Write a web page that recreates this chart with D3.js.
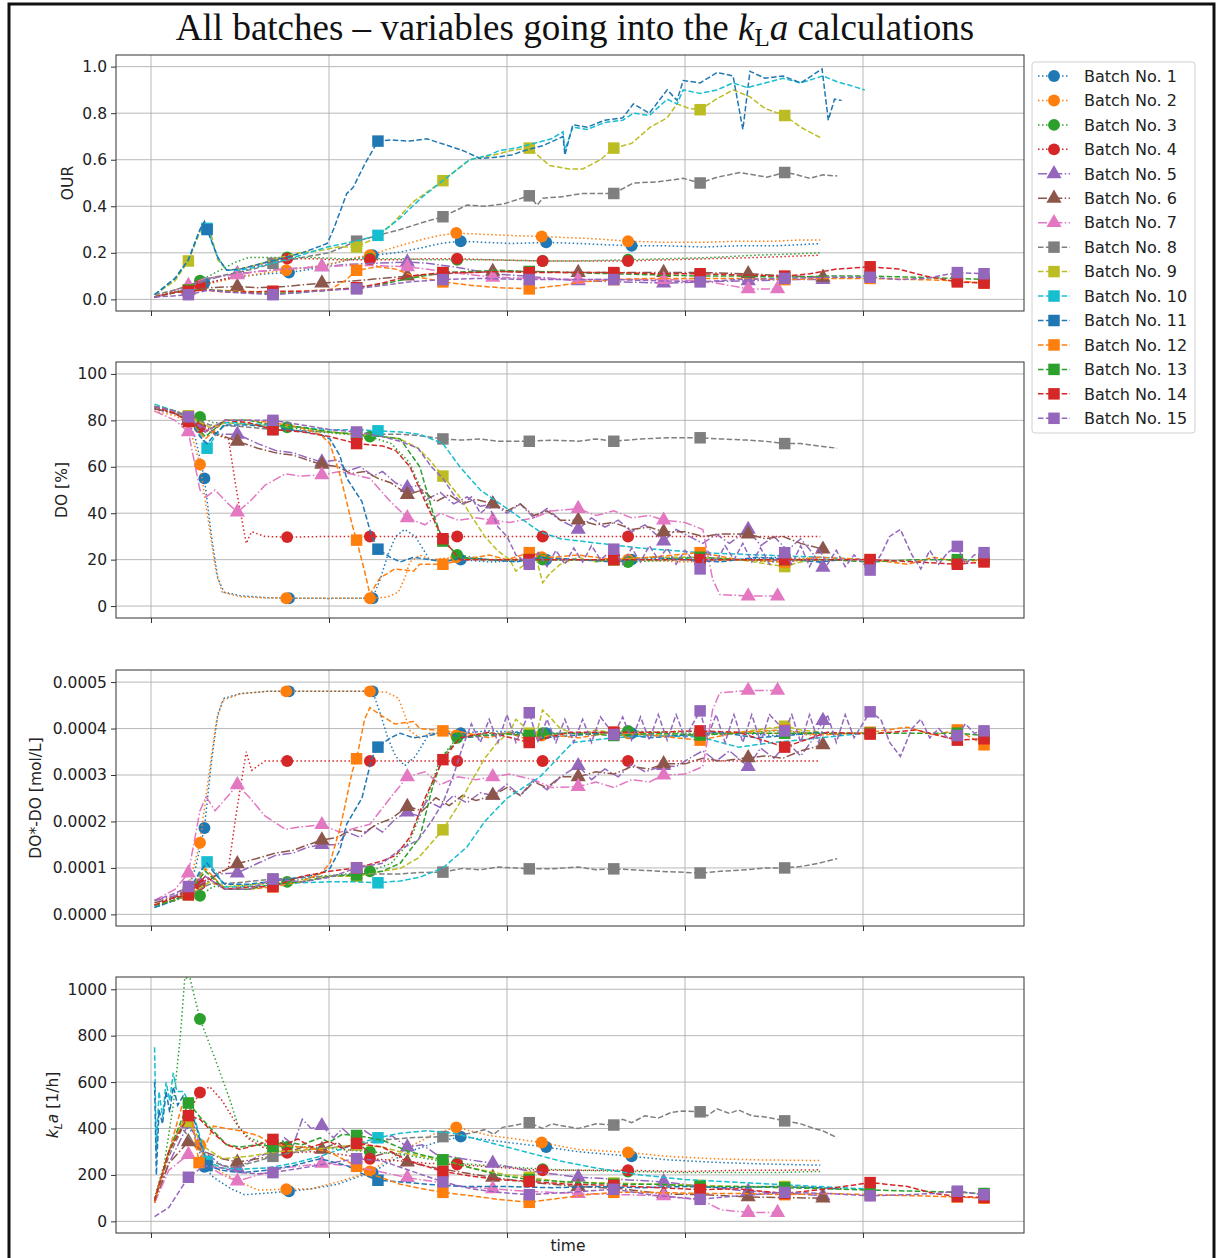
<!DOCTYPE html>
<html>
<head>
<meta charset="utf-8">
<script src="https://cdn.jsdelivr.net/npm/d3@7"></script>
<style>
  body { margin: 0; background: #fff; }
  text { font-family: "DejaVu Sans", sans-serif; fill: #222; }
</style>
</head>
<body>
<svg id="chart" width="1216" height="1258"></svg>
<script>
// batches and their styles
const batchNames = ["Batch No. 1", "Batch No. 2", "Batch No. 3", "Batch No. 4", "Batch No. 5",
  "Batch No. 6", "Batch No. 7", "Batch No. 8", "Batch No. 9", "Batch No. 10", "Batch No. 11",
  "Batch No. 12", "Batch No. 13", "Batch No. 14", "Batch No. 15"];
const batchColors = ["#1f77b4", "#ff7f0e", "#2ca02c", "#d62728", "#9467bd", "#8c564b", "#e377c2",
  "#7f7f7f", "#bcbd22", "#17becf", "#1f77b4", "#ff7f0e", "#2ca02c", "#d62728", "#9467bd"];
const batchLine = ["dot", "dot", "dot", "dot", "dashdot", "dashdot", "dashdot",
  "dash", "dash", "dash", "dash", "dash", "dash", "dash", "dash"];
const batchMarker = ["circle", "circle", "circle", "circle", "triangle", "triangle", "triangle",
  "square", "square", "square", "square", "square", "square", "square", "square"];

// time axis (no labels shown), grid every 20 h
const timeTicks = [0, 20, 40, 60, 80];

// OUR, points are [time, value, marker?]
const ourData = [
  [[0.4,0.01],[2.7,0.03],[4.5,0.05],[6.0,0.07,1],[8.0,0.085],[10.5,0.1],[13,0.11],[15.5,0.115,1],[18,0.13],[20.5,0.155],[23,0.175],[24.9,0.19,1],[27.5,0.2],[30.2,0.22],[32.5,0.24],[34.8,0.25,1],[37.5,0.245],[40.5,0.24],[44.4,0.245,1],[48,0.24],[51,0.235],[54,0.23,1],[58,0.23],[62,0.225],[66,0.23],[70,0.23],[73,0.235],[75.2,0.24]],
  [[0.4,0.01],[2.7,0.03],[4.3,0.05],[5.5,0.06,1],[8,0.08],[10.5,0.1],[13,0.115],[15.2,0.125,1],[18,0.14],[20.5,0.155],[23,0.18],[24.6,0.19,1],[27,0.22],[30.2,0.255],[32.5,0.275],[34.3,0.285,1],[37,0.28],[40,0.275],[43.9,0.27,1],[47,0.265],[50,0.26],[53.6,0.25,1],[58,0.245],[62,0.245],[66,0.25],[70,0.25],[73,0.255],[75.2,0.255]],
  [[0.4,0.01],[2.7,0.04],[4.3,0.06],[5.5,0.08,1],[7.5,0.12],[9.5,0.16],[11,0.18],[13,0.18],[15.3,0.18,1],[18,0.18],[21,0.175],[24.6,0.175,1],[28,0.175],[31,0.17],[34.4,0.17,1],[38,0.17],[44,0.165,1],[48,0.165],[53.6,0.17,1],[58,0.175],[63,0.18],[68,0.19],[72,0.195],[75.2,0.2]],
  [[0.4,0.01],[2.7,0.03],[4.3,0.045],[5.5,0.06,1],[7.5,0.08],[9.5,0.1],[11.5,0.14],[13.5,0.165],[15.3,0.175,1],[18,0.175],[21,0.17],[24.6,0.17,1],[28,0.17],[31,0.175],[34.4,0.175,1],[38,0.17],[44,0.165,1],[48,0.165],[53.6,0.165,1],[58,0.17],[63,0.175],[68,0.18],[72,0.185],[75.2,0.19]],
  [[0.4,0.01],[2.7,0.03],[4.2,0.05,1],[6,0.08],[8,0.1],[9.7,0.11,1],[12,0.12],[15,0.13],[19.2,0.14,1],[22,0.15],[25,0.155],[28.8,0.16,1],[31,0.155],[34,0.14],[38.4,0.11,1],[42,0.1],[48,0.08,1],[53,0.075],[57.6,0.07,1],[62,0.075],[67.1,0.08,1],[72,0.085],[75.5,0.085,1]],
  [[0.4,0.01],[2.7,0.03],[4.2,0.04,1],[6.5,0.05],[9.7,0.055,1],[12,0.05],[15,0.055],[19.2,0.07,1],[23,0.08],[28.8,0.1,1],[33,0.11],[38.4,0.12,1],[43,0.12],[48,0.115,1],[53,0.115],[57.6,0.115,1],[62,0.115],[67.1,0.11,1],[72,0.1],[75.5,0.095,1]],
  [[0.4,0.01],[2.7,0.04],[4.2,0.06,1],[6,0.09],[8,0.1],[9.7,0.105,1],[12,0.12],[15,0.13],[19.2,0.14,1],[22,0.145],[25,0.145],[28.8,0.14,1],[32,0.125],[35,0.11],[38.4,0.095,1],[43,0.09],[48,0.085,1],[53,0.085],[57.6,0.085,1],[62,0.08],[65,0.06],[67.1,0.045,1],[70.4,0.045,1]],
  [[0.4,0.02],[2.7,0.04],[4.2,0.06],[6.5,0.09],[9,0.11],[11.5,0.13],[13.7,0.155,1],[17,0.18],[20,0.2],[23.1,0.25,1],[26,0.28],[28,0.3],[30.5,0.33],[32.8,0.355,1],[35.5,0.405],[37.5,0.4],[39.6,0.41],[42.5,0.445,1],[43.4,0.405],[44,0.435],[46,0.44],[48.5,0.455],[52,0.455,1],[54.2,0.5],[57,0.505],[59.8,0.52],[61.7,0.5,1],[63.6,0.525],[66.2,0.545],[69.2,0.525],[71.2,0.545,1],[72.1,0.54],[74,0.52],[75.5,0.535],[77.1,0.53]],
  [[0.4,0.02],[2.7,0.08],[4.2,0.165,1],[5.5,0.29],[6.0,0.325],[6.6,0.3],[7.5,0.17],[8.5,0.125],[10,0.13],[12,0.15],[14.5,0.18],[16.7,0.2],[19,0.21],[21,0.225],[23.1,0.225,1],[25,0.26],[27,0.32],[29.5,0.42],[32.8,0.51,1],[35.8,0.6],[38.5,0.62],[40.5,0.64],[42.5,0.65,1],[44.8,0.575],[47,0.56],[48.5,0.56],[50.5,0.6],[52,0.65,1],[54,0.67],[56.1,0.74],[58,0.78],[59.1,0.84],[60.5,0.82],[61.7,0.815,1],[63.5,0.86],[65.4,0.9],[67.3,0.87],[69,0.82],[71.2,0.79,1],[73,0.74],[75.2,0.695]],
  [[0.4,0.02],[2.7,0.09],[4.2,0.17],[5.5,0.3],[6.0,0.33],[6.3,0.305,1],[7.5,0.18],[8.5,0.125],[10,0.125],[12,0.14],[13.7,0.155],[16,0.18],[19.8,0.225],[23,0.25],[25.5,0.275,1],[28,0.35],[30.5,0.44],[32.8,0.51],[35.8,0.6],[38,0.62],[39.2,0.64],[41,0.65],[43,0.67],[45,0.69],[46.3,0.72],[46.5,0.64],[47.4,0.74],[49,0.73],[51,0.76],[53,0.77],[54.2,0.8],[56,0.79],[58,0.86],[59.1,0.84],[59.8,0.9],[61.7,0.885],[63.6,0.9],[65.4,0.93],[67,0.91],[69,0.93],[71,0.95],[73,0.93],[75.5,0.96],[77.1,0.935],[78.5,0.92],[80.2,0.9]],
  [[0.4,0.02],[2.7,0.09],[4.2,0.17],[5.5,0.3],[6.0,0.335],[6.3,0.3,1],[7.5,0.18],[8.5,0.125],[10,0.13],[12,0.15],[14,0.17],[17,0.2],[19.8,0.24],[20.5,0.3],[22,0.455],[22.7,0.48],[24,0.58],[25.5,0.68,1],[27,0.685],[29,0.68],[31,0.69],[33,0.665],[35,0.64],[37,0.605],[38.5,0.61],[40.5,0.62],[42,0.64],[44,0.66],[46.3,0.7],[46.5,0.62],[47.4,0.75],[49,0.74],[51,0.77],[53,0.78],[54.2,0.84],[56,0.8],[58,0.9],[59.1,0.855],[59.8,0.94],[61.7,0.93],[63.6,0.975],[65.4,0.96],[66.5,0.73],[67.3,0.98],[69,0.95],[71,0.96],[73,0.93],[75.4,0.99],[76.1,0.77],[76.8,0.86],[77.6,0.855]],
  [[0.4,0.01],[2.7,0.03],[4.2,0.04,1],[7,0.04],[10,0.035],[13.7,0.03,1],[17,0.035],[20,0.04],[21.8,0.08],[23.1,0.125,1],[25.5,0.14],[27.5,0.13],[29.5,0.1],[32.8,0.075,1],[36,0.06],[39.2,0.05],[42.5,0.045,1],[46,0.06],[48.5,0.075],[52,0.085,1],[56,0.09],[61.7,0.09,1],[66,0.09],[71.2,0.085,1],[76,0.09],[80.8,0.09,1],[86,0.085],[90.6,0.08,1],[93.6,0.07,1]],
  [[0.4,0.01],[2.7,0.03],[4.2,0.04,1],[7,0.04],[10,0.03],[13.7,0.025,1],[17,0.03],[20,0.04],[23.1,0.05,1],[26,0.065],[29,0.09],[32.8,0.115,1],[36,0.12],[39,0.125],[42.5,0.12,1],[47,0.115],[52,0.11,1],[57,0.105],[61.7,0.1,1],[66,0.1],[71.2,0.095,1],[76,0.1],[80.8,0.1,1],[86,0.095],[90.6,0.09,1],[93.6,0.085,1]],
  [[0.4,0.01],[2.7,0.03],[4.2,0.035,1],[6,0.04],[9,0.03],[13.7,0.035,1],[17,0.035],[20,0.04],[23.1,0.05,1],[26,0.07],[29,0.1],[32.8,0.115,1],[36,0.115],[39,0.12],[42.5,0.115,1],[47,0.115],[52,0.115,1],[57,0.11],[61.7,0.11,1],[66,0.105],[71.2,0.1,1],[74,0.11],[77,0.13],[80.8,0.14,1],[84,0.13],[87,0.1],[90.6,0.075,1],[93.6,0.07,1]],
  [[0.4,0.01],[2.7,0.015],[4.2,0.02,1],[6.5,0.04],[9,0.03],[13.7,0.02,1],[17,0.03],[20,0.04],[23.1,0.045,1],[26,0.06],[29,0.075],[32.8,0.085,1],[37,0.09],[42.5,0.085,1],[47,0.085],[52,0.085,1],[57,0.08],[61.7,0.075,1],[66,0.085],[71.2,0.09,1],[76,0.095],[80.8,0.095,1],[84,0.085],[87,0.09],[90.6,0.115,1],[93.6,0.11,1]]
];

// DO [%]
const doData = [
  [[0.4,85],[2.7,83],[4.2,80],[5.0,72],[6.0,55,1],[6.8,30],[7.5,12],[8.2,6],[10,4.5],[13,3.6],[15.5,3.4,1],[20,3.3],[24.9,3.4,1],[25.8,12],[26.6,22],[27.5,30],[28.5,33],[29.7,30],[31.3,20],[34.8,20,1],[38,19],[44.4,20,1],[50,20],[54,20,1],[60,21],[66,20],[70,21],[75.2,20]],
  [[0.4,84],[2.7,82],[4.2,79],[5.5,61,1],[6.5,35],[7.3,15],[8,6],[10,4],[13,3.5],[15.2,3.4,1],[20,3.3],[24.6,3.4,1],[26.5,3.8],[27.8,6],[28.5,12],[29.1,19],[30.2,22],[31.5,20],[34.3,21,1],[38,20],[43.9,21,1],[48,20],[53.6,20,1],[60,19],[66,20],[70,20],[75.2,21]],
  [[0.4,86],[2.7,84],[4.2,82],[5.5,81.5,1],[7,79],[9,79],[12,78],[15.3,77,1],[19,75],[22,74],[24.6,73,1],[27,70],[29,62],[31,45],[32.5,30],[34.4,22,1],[38,20],[44,20,1],[48,20],[53.6,19,1],[60,20],[66,20],[70,19],[75.2,20]],
  [[0.4,85],[2.7,83],[4.2,80],[5.5,77,1],[7.2,74],[8.7,72],[9.6,50],[10.7,27],[11.3,32],[12.8,30],[15.3,29.7,1],[20,30],[24.6,30,1],[30,30],[34.4,30,1],[40,30],[44,30,1],[50,30],[53.6,30,1],[60,30],[66,30],[70,30],[75.2,30]],
  [[0.4,85],[2.7,83],[4.2,80,1],[6,77],[7.5,74],[9.7,74,1],[12,70],[14,67],[16,66],[17.5,64],[19.2,62,1],[21,63],[22,58],[23.5,60],[25,56],[26,58],[27.5,53],[28.8,51,1],[30,52],[31,46],[32.5,49],[34,44],[35.5,47],[37,43],[38.4,44,1],[40,40],[41.5,44],[43,38],[44.5,42],[46,37],[48,33,1],[49.5,38],[51,34],[52.5,37],[54,32],[55.5,35],[57.6,28,1],[59,33],[60.5,30],[62,27],[63.5,31],[65,27],[67.1,33,1],[68.5,26],[70,30],[71.5,24],[73,29],[74.5,22],[75.5,16.7,1]],
  [[0.4,85],[2.7,83],[4.2,80,1],[6,78],[7.5,74],[9.7,71,1],[12,68],[14,66],[16,65],[17.5,63],[19.2,61,1],[21,60],[22.5,57],[24,58],[25.5,55],[27,53],[28.8,48,1],[30.5,50],[32,45],[33.5,48],[35,44],[36.5,46],[38.4,44,1],[40,41],[41.5,44],[43,39],[44.5,41],[46,37],[48,37,1],[50,35],[52,36],[54,33],[56,34],[57.6,32,1],[60,32],[62,30],[64,31],[67.1,31,1],[69,29],[71,30],[73,27],[75.5,24.5,1]],
  [[0.4,84],[2.7,80],[4.2,75,1],[5.5,50],[6.2,47],[7.2,50],[8.7,44],[9.7,40.5,1],[11.1,45],[12.8,52],[15.1,57],[16.7,56],[19.2,56.5,1],[21.2,58],[24.6,55],[26.9,45],[28.8,38,1],[30.8,35],[32.5,40],[34.5,37],[36.5,38],[38.4,37,1],[40.3,36],[43,38],[45,41],[48,42,1],[50,39],[52,41],[54,38],[56,39],[57.6,37,1],[60,36],[62,33],[63.1,11.6],[63.9,5],[67.1,4.3,1],[70.4,4.3,1]],
  [[0.4,86],[2.7,84],[4.2,82],[6.6,78],[9.6,77.5],[13.7,76,1],[17,75.5],[20,75],[23.1,74,1],[26,74],[28,74],[30,73.5],[32.8,72,1],[35,71.5],[37,72],[39,71],[42.5,71,1],[45,71.5],[48,71],[50,72],[52,71,1],[55,72],[58,72.5],[61.7,72.5,1],[64,72],[67,71.5],[69,71],[71.2,70,1],[73,70],[75,69],[77.1,68]],
  [[0.4,86],[2.7,84],[4.2,82,1],[6.6,77],[8.3,79],[12,78],[16.7,77],[20,75],[23.1,74,1],[26,73],[28,72],[30,68],[31.3,63],[32.8,56,1],[34.5,48],[35.8,40],[37.5,30],[38.9,24],[40.3,20],[41,15],[42,18],[42.5,20,1],[43.2,22],[44,10],[44.8,14],[46,18],[48,21],[50,19],[52,20,1],[56,21],[61.7,21,1],[66,20],[71.2,17,1],[73,19],[75.2,20]],
  [[0.4,87],[2.7,84],[4.2,81],[5.5,74],[6.3,68,1],[7.2,73],[8.3,79],[10,79],[13,78],[16.7,77],[20,76],[23,76],[25.5,75.5,1],[28,75],[30.2,74],[32.8,70],[34.7,60],[37,50],[40,42],[43.7,32],[46,29],[50.4,27],[54.9,25],[61.7,23],[68.4,22],[75.2,21],[80.2,20]],
  [[0.4,86],[2.7,84],[4.2,81],[5.5,73],[6.3,70],[7.2,74],[8.3,78],[11,78],[15.6,76],[19,74],[20.1,72],[21.2,65],[22.0,55],[23.7,45],[24.8,30],[25.5,24.5,1],[26.9,21],[28,19],[29.5,21],[31.3,20],[33,19],[35,21],[38,20],[41,19],[44,21],[48,20],[52,19],[56,21],[60,20],[64,19],[68,21],[72,20],[75,19],[77.6,20]],
  [[0.4,86],[2.7,84],[4.2,81,1],[6.1,72],[8.3,80],[11,80],[13.7,79,1],[16.7,77],[19,74],[20.1,70],[21.2,57],[21.8,48],[22.6,35],[23.1,28.4,1],[24.0,15],[24.6,5],[25.7,12],[27.4,16],[29.5,15],[30.2,18],[32.8,18,1],[35,20],[38,22],[40,20],[42.5,23,1],[45,21],[48,22],[52,20,1],[56,21],[61.7,23,1],[66,20],[71.2,19,1],[75,21],[80.8,20,1],[85,18],[88,21],[90.6,19,1],[93.6,20,1]],
  [[0.4,86],[2.7,84],[4.2,81,1],[6.1,73],[8.3,80],[11,80],[13.7,78,1],[17,77],[20.1,75],[23.1,74,1],[26,73],[28,72],[30.2,60],[31.7,40],[32.8,28,1],[34.7,21],[37,20],[40,20],[42.5,20,1],[47,20],[52,20,1],[57,20],[61.7,21,1],[66,20],[71.2,20,1],[76,20],[80.8,19,1],[86,20],[90.6,20,1],[93.6,20,1]],
  [[0.4,86],[2.7,83],[4.2,79.5,1],[6.1,75],[8.3,80],[11,79],[13.7,76,1],[17,75],[20.1,73],[23.1,70,1],[26,69],[27.5,67],[29.1,60],[30.8,45],[32.8,29,1],[34.7,20],[38,20],[42.5,20,1],[47,20],[52,20,1],[57,20],[61.7,20,1],[66,20],[71.2,20,1],[76,20],[80.8,20,1],[86,19],[90.6,18,1],[93.6,19,1]],
  [[0.4,86],[2.7,84],[4.2,81.5,1],[6.1,75],[8.3,80],[11,80],[13.7,80,1],[17,78],[20.1,76],[23.1,75,1],[26,73],[28,71],[30,68],[31.5,60],[32.8,55],[34,48],[35,44],[36,47],[37,40],[38,43],[39,34],[40,30],[41,22],[42.5,18,1],[43.5,23],[44.5,17],[45.5,24],[46.5,18],[47.5,25],[48.5,19],[49.5,26],[50.5,20],[52,24.5,1],[53,18],[54,25],[55,19],[56,26],[57,20],[58,25],[59,18],[60,24],[61.7,16,1],[62.5,24],[63.5,19],[64.5,26],[65.5,20],[66.5,27],[67.5,19],[68.5,25],[69.5,18],[71.2,23,1],[72,18],[73,26],[74,17],[75,25],[76,18],[77,24],[78,17],[79,22],[80.8,15.5,1],[82,22],[83,30],[84.2,33],[85.5,22],[86.5,16],[87.5,24],[88.5,18],[89.5,23],[90.6,25.7,1],[91.5,18],[92.5,22],[93.6,23,1]]
];

// DO*-DO in units of 1e-4 mol/L
const dsatData = [
  [[0.4,0.2],[2.7,0.35],[4.2,0.55],[5.0,1.0],[6.0,1.86,1],[6.8,3.3],[7.5,4.3],[8.2,4.65],[10,4.75],[13,4.8],[15.5,4.8,1],[20,4.8],[24.9,4.8,1],[25.8,4.3],[26.6,3.8],[27.5,3.4],[28.5,3.2],[29.7,3.4],[31.3,3.9],[34.8,3.9,1],[38,3.95],[44.4,3.9,1],[50,3.9],[54,3.9,1],[60,3.85],[66,3.9],[70,3.85],[75.2,3.9]],
  [[0.4,0.25],[2.7,0.4],[4.2,0.6],[5.5,1.54,1],[6.5,3.0],[7.3,4.1],[8,4.6],[10,4.75],[13,4.8],[15.2,4.8,1],[20,4.8],[24.6,4.8,1],[26.5,4.78],[27.8,4.65],[28.5,4.3],[29.1,3.95],[30.2,3.8],[31.5,3.9],[34.3,3.85,1],[38,3.9],[43.9,3.85,1],[48,3.9],[53.6,3.9,1],[60,3.95],[66,3.9],[70,3.9],[75.2,3.85]],
  [[0.4,0.15],[2.7,0.3],[4.2,0.4],[5.5,0.4,1],[7,0.6],[9,0.6],[12,0.65],[15.3,0.7,1],[19,0.82],[22,0.87],[24.6,0.93,1],[27,1.1],[29,1.55],[31,2.5],[32.5,3.35],[34.4,3.8,1],[38,3.9],[44,3.9,1],[48,3.9],[53.6,3.95,1],[60,3.9],[66,3.9],[70,3.95],[75.2,3.9]],
  [[0.4,0.2],[2.7,0.35],[4.2,0.5],[5.5,0.65,1],[7.2,0.87],[8.7,0.99],[9.6,2.2],[10.7,3.5],[11.3,3.1],[12.8,3.3],[15.3,3.3,1],[20,3.3],[24.6,3.3,1],[30,3.3],[34.4,3.3,1],[40,3.3],[44,3.3,1],[50,3.3],[53.6,3.3,1],[60,3.3],[66,3.3],[70,3.3],[75.2,3.3]],
  [[0.4,0.3],[2.7,0.4],[4.2,0.55,1],[6,0.7],[7.5,0.87],[9.7,0.89,1],[12,1.1],[14,1.27],[16,1.32],[17.5,1.44],[19.2,1.5,1],[21,1.5],[22,1.77],[23.5,1.66],[25,1.9],[26,1.77],[27.5,2.06],[28.8,2.2,1],[30,2.12],[31,2.45],[32.5,2.3],[34,2.56],[35.5,2.4],[37,2.62],[38.4,2.56,1],[40,2.8],[41.5,2.56],[43,2.9],[44.5,2.68],[46,2.96],[48,3.2,1],[49.5,2.9],[51,3.13],[52.5,2.96],[54,3.24],[55.5,3.07],[57.6,3.2,1],[59,3.18],[60.5,3.36],[62,3.52],[63.5,3.3],[65,3.52],[67.1,3.18,1],[68.5,3.58],[70,3.36],[71.5,3.7],[73,3.41],[74.5,3.8],[75.5,4.17,1]],
  [[0.4,0.25],[2.7,0.37],[4.2,0.54,1],[6,0.65],[7.5,0.87],[9.7,1.09,1],[12,1.21],[14,1.32],[16,1.38],[17.5,1.49],[19.2,1.6,1],[21,1.66],[22.5,1.83],[24,1.77],[25.5,1.95],[27,2.06],[28.8,2.32,1],[30.5,2.23],[32,2.51],[33.5,2.34],[35,2.56],[36.5,2.45],[38.4,2.56,1],[40,2.73],[41.5,2.56],[43,2.85],[44.5,2.73],[46,2.96],[48,2.96,1],[50,3.07],[52,3.02],[54,3.18],[56,3.13],[57.6,3.24,1],[60,3.24],[62,3.36],[64,3.3],[67.1,3.37,1],[69,3.41],[71,3.36],[73,3.52],[75.5,3.65,1]],
  [[0.4,0.3],[2.7,0.54],[4.2,0.89,1],[5.5,2.23],[6.2,2.53],[7.2,2.23],[8.7,2.56],[9.7,2.79,1],[11.1,2.51],[12.8,2.12],[15.1,1.83],[16.7,1.88],[19.2,1.93,1],[21.2,1.77],[24.6,1.94],[26.9,2.51],[28.8,2.96,1],[30.8,3.07],[32.5,2.79],[34.5,2.96],[36.5,2.9],[38.4,2.96,1],[40.3,3.02],[43,2.9],[45,2.73],[48,2.75,1],[50,2.85],[52,2.73],[54,2.9],[56,2.85],[57.6,3.0,1],[60,3.02],[62,3.18],[63.1,4.4],[63.9,4.77],[67.1,4.82,1],[70.4,4.82,1]],
  [[0.4,0.2],[2.7,0.3],[4.2,0.42],[6.6,0.65],[9.6,0.68],[13.7,0.76,1],[17,0.79],[20,0.82],[23.1,0.87,1],[26,0.87],[28,0.87],[30,0.9],[32.8,0.91,1],[35,0.99],[37,0.96],[39,1.02],[42.5,0.98,1],[45,0.98],[48,1.02],[50,0.96],[52,0.98,1],[55,0.95],[58,0.92],[61.7,0.89,1],[64,0.93],[67,0.96],[69,1.0],[71.2,1.0,1],[73,1.03],[75,1.1],[77.1,1.2]],
  [[0.4,0.2],[2.7,0.31],[4.2,0.42,1],[6.6,0.7],[8.3,0.59],[12,0.65],[16.7,0.7],[20,0.82],[23.1,0.82,1],[26,0.93],[28,0.99],[30,1.21],[31.3,1.49],[32.8,1.82,1],[34.5,2.34],[35.8,2.79],[37.5,3.36],[38.9,3.7],[40.3,3.92],[41,4.2],[42,4.03],[42.5,3.9,1],[43.2,3.8],[44,4.4],[44.8,4.25],[46,4.0],[48,3.86],[50,3.97],[52,3.9,1],[56,3.86],[61.7,3.86,1],[66,3.92],[71.2,4.05,1],[73,3.97],[75.2,3.92]],
  [[0.4,0.15],[2.7,0.31],[4.2,0.48],[5.5,0.87],[6.3,1.13,1],[7.2,0.93],[8.3,0.59],[10,0.59],[13,0.62],[16.7,0.68],[20,0.7],[23,0.7],[25.5,0.68,1],[28,0.72],[30.2,0.8],[32.8,1.0],[35.5,1.45],[37.5,2.0],[40,2.5],[43.7,2.96],[47.4,3.7],[52,3.8],[56,3.85],[61.7,3.82],[66,3.6],[70,3.7],[75.2,3.8],[80.2,3.9]],
  [[0.4,0.15],[2.7,0.31],[4.2,0.48],[5.5,0.93],[6.3,1.1],[7.2,0.87],[8.3,0.65],[11,0.65],[15.6,0.76],[19,0.87],[20.1,0.99],[21.2,1.38],[22,1.95],[23.7,2.5],[24.8,3.36],[25.5,3.6,1],[26.9,3.8],[28,3.9],[29.5,3.8],[31.3,3.85],[33,3.92],[35,3.8],[38,3.85],[41,3.92],[44,3.8],[48,3.86],[52,3.92],[56,3.8],[60,3.86],[64,3.92],[68,3.8],[72,3.86],[75,3.92],[77.6,3.86]],
  [[0.4,0.2],[2.7,0.31],[4.2,0.48,1],[6.1,0.99],[8.3,0.54],[11,0.54],[13.7,0.59,1],[16.7,0.7],[19,0.87],[20.1,1.1],[21.2,1.83],[21.8,2.34],[22.6,3.07],[23.1,3.35,1],[24.0,4.2],[24.6,4.45],[25.7,4.3],[27.4,4.1],[29.5,4.15],[30.2,4.0],[32.8,3.95,1],[35,3.92],[38,3.8],[40,3.92],[42.5,3.75,1],[45,3.86],[48,3.8],[52,3.92,1],[56,3.86],[61.7,3.75,1],[66,3.92],[71.2,3.97,1],[75,3.86],[80.8,3.92,1],[85,4.03],[88,3.86],[90.6,3.97,1],[93.6,3.65,1]],
  [[0.4,0.2],[2.7,0.31],[4.2,0.45,1],[6.1,0.93],[8.3,0.54],[11,0.54],[13.7,0.65,1],[17,0.7],[20.1,0.82],[23.1,0.85,1],[26,0.93],[28,1.1],[30.2,1.66],[31.7,2.79],[32.8,3.4],[34.7,3.81],[37,3.85],[40,3.88],[42.5,3.85,1],[47,3.9],[52,3.85,1],[57,3.9],[61.7,3.86,1],[66,3.9],[71.2,3.9,1],[76,3.9],[80.8,3.9,1],[86,3.9],[90.6,3.9,1],[93.6,3.85,1]],
  [[0.4,0.2],[2.7,0.37],[4.2,0.42,1],[6.1,0.82],[8.3,0.54],[11,0.59],[13.7,0.6,1],[17,0.82],[20.1,0.93],[23.1,1.0,1],[26,1.15],[27.5,1.27],[29.1,1.66],[30.8,2.51],[32.8,3.33,1],[34.7,3.8],[38,3.92],[42.5,3.7,1],[47,3.92],[52,3.92,1],[57,3.92],[61.7,3.95,1],[66,3.92],[71.2,3.6,1],[76,3.92],[80.8,3.88,1],[86,3.97],[90.6,3.75,1],[93.6,3.78,1]],
  [[0.4,0.3],[2.7,0.45],[4.2,0.6,1],[6.1,0.82],[8.3,0.54],[11,0.54],[13.7,0.76,1],[17,0.7],[20.1,0.8],[23.1,1.0,1],[26,1.1],[28,1.4],[30,1.6],[31.5,2.0],[32.8,2.4],[34,3.0],[35,3.6],[36,4.1],[37,3.7],[38,4.2],[39,3.7],[40,4.3],[41,3.7],[42.5,4.34,1],[43.5,3.7],[44.5,4.2],[45.5,3.7],[46.5,4.2],[47.5,3.7],[48.5,4.2],[49.5,3.7],[50.5,4.25],[52,3.87,1],[53,4.25],[54,3.75],[55,4.25],[56,3.75],[57,4.3],[58,3.75],[59,4.3],[60,3.8],[61.7,4.38,1],[62.5,3.8],[63.5,4.3],[64.5,3.7],[65.5,4.3],[66.5,3.7],[67.5,4.3],[68.5,3.7],[69.5,4.3],[71.2,3.95,1],[72,4.3],[73,3.7],[74,4.3],[75,3.7],[76,4.3],[77,3.7],[78,4.3],[79,3.8],[80.8,4.36,1],[82,4.2],[83,3.7],[84.2,3.4],[85.5,4.0],[86.5,4.2],[87.5,3.8],[88.5,4.0],[89.5,3.8],[90.6,3.85,1],[91.5,4.1],[92.5,3.9],[93.6,3.95,1]]
];

// kLa [1/h]
const klaData = [
  [[0.4,90],[2,300],[3.5,420],[4.8,380],[6.0,235,1],[7,190],[9,140],[10.5,115],[12.5,120],[15.5,130,1],[18,140],[21,160],[23.5,195],[24.9,210,1],[26.5,250],[29,300],[32,340],[34.8,365,1],[38,350],[44.4,320,1],[48,300],[54,280,1],[58,265],[63,255],[68,248],[75.2,242]],
  [[0.4,90],[2,300],[3.5,430],[4.5,440],[5.5,330,1],[6.5,260],[8,210],[10,170],[12,135],[15.2,138,1],[18,140],[21,170],[23.5,200],[24.6,215,1],[26.5,260],[29,320],[32,380],[34.3,405,1],[38,370],[43.9,340,1],[48,310],[53.6,297,1],[58,280],[63,270],[68,265],[75.2,262]],
  [[0.4,100],[1.5,250],[2.5,500],[3.3,800],[3.8,1050],[4.4,1045],[5.5,872,1],[7.2,700],[8.9,520],[9.8,410],[11,360],[13,330],[15.3,320,1],[18,320],[21,310],[24.6,300,1],[28,290],[31,270],[34.4,250,1],[38,240],[44,225,1],[48,220],[53.6,215,1],[60,210],[66,210],[70,210],[75.2,215]],
  [[0.4,100],[2,300],[3.5,420],[5.5,555,1],[6.6,580],[8,520],[9.6,420],[10.8,360],[12.5,320],[15.3,295,1],[18,300],[21,290],[24.6,270,1],[28,260],[31,250],[34.4,245,1],[38,235],[44,220,1],[48,220],[53.6,220,1],[60,215],[66,220],[70,220],[75.2,222]],
  [[0.4,80],[2,250],[4.2,420,1],[6,300],[8,240],[9.7,230,1],[12,280],[14,300],[15,360],[16,330],[17,440],[18,400],[19.2,412,1],[20.5,360],[21.5,400],[23,350],[24,390],[26,340],[27,370],[28.8,320,1],[30.5,330],[32,290],[35,270],[38.4,250,1],[42,220],[48,190,1],[53,180],[57.6,170,1],[62,150],[67.1,130,1],[72,120],[75.5,110,1]],
  [[0.4,80],[2,250],[4.2,343,1],[6,300],[8,270],[9.7,255,1],[12,270],[15,290],[17,320],[19.2,310,1],[21,340],[22,300],[23.5,330],[25,280],[27,300],[28.8,255,1],[32,230],[35,210],[38.4,190,1],[42,170],[48,150,1],[53,140],[57.6,118,1],[62,115],[67.1,105,1],[72,102],[75.5,100,1]],
  [[0.4,80],[2,220],[4.2,288,1],[6,250],[8,200],[9.7,173,1],[12,200],[15,230],[19.2,250,1],[22,240],[25,220],[28.8,188,1],[32,170],[35,150],[38.4,140,1],[42,130],[48,120,1],[53,115],[57.6,110,1],[62,90],[64,50],[67.1,38,1],[70.4,38,1]],
  [[0.4,90],[2,280],[3.5,400],[5,330],[6.6,260],[9,230],[12,260],[13.7,280,1],[15,290],[18,310],[21,320],[23.1,330,1],[26,350],[29,360],[32.8,365,1],[36,380],[37.5,395],[38.5,375],[39.5,405],[42.5,425,1],[44,400],[45,420],[48,400],[50,420],[52,415,1],[53,440],[54,425],[55.5,455],[57,445],[58.5,470],[59.8,475],[61.7,472,1],[62.5,455],[63.6,485],[65,465],[66,480],[67.5,455],[69,450],[71.2,433,1],[73,420],[74.5,400],[75.5,390],[77.1,360]],
  [[0.4,90],[2,300],[3.5,420],[4.2,430,1],[6,320],[8,270],[11,280],[14,300],[18,310],[21,320],[23.1,330,1],[26,320],[29,290],[32.8,265,1],[36,230],[40,200],[42.5,190,1],[46,170],[52,165,1],[56,160],[61.7,155,1],[66,150],[71.2,150,1],[75.2,145]],
  [[0.4,750],[0.6,300],[0.9,560],[1.3,450],[1.7,600],[2.1,520],[2.5,640],[2.9,560],[3.6,560],[4.2,520],[5.0,430],[6.3,258,1],[8,230],[10,225],[13,230],[16,250],[19,280],[22,320],[25.5,360,1],[28,380],[31,390],[34,380],[38,340],[42,300],[46,260],[50,230],[55,200],[60,180],[65,170],[70,160],[75,150],[80.2,140]],
  [[0.4,600],[0.6,200],[0.9,480],[1.3,420],[1.7,560],[2.1,470],[2.5,580],[3.0,500],[3.6,540],[4.2,500],[5.0,420],[6.3,240,1],[8,220],[10,210],[13,220],[16,240],[19,270],[22,240],[24,200],[25.5,177,1],[28,170],[31,160],[35,150],[40,150],[45,145],[50,150],[55,145],[60,150],[65,145],[70,150],[75,145],[77.6,140]],
  [[0.4,80],[2,300],[3.5,500],[4.2,530],[5.4,253,1],[7,410],[8.5,400],[10,390],[12,370],[13.7,330,1],[17,320],[20,300],[23.1,237,1],[25,200],[28,160],[30.5,140],[32.8,125,1],[36,110],[39,95],[42.5,82,1],[46,100],[49,115],[52,125,1],[56,125],[61.7,120,1],[66,120],[71.2,115,1],[76,120],[80.8,115,1],[86,110],[90.6,105,1],[93.6,100,1]],
  [[0.4,90],[2,300],[4.2,510,1],[5.5,450],[7,390],[8.5,330],[10,320],[12,330],[13.7,323,1],[15,345],[17,330],[19,360],[20,340],[21.5,375],[23.1,370,1],[26,350],[29,300],[32.8,265,1],[36,230],[39,200],[42.5,180,1],[47,170],[52,160,1],[57,160],[61.7,150,1],[66,150],[71.2,145,1],[76,140],[80.8,135,1],[86,130],[90.6,125,1],[93.6,120,1]],
  [[0.4,90],[2,300],[4.2,455,1],[5.5,440],[7,380],[8.5,330],[10,310],[12,330],[13.7,353,1],[15,330],[16.5,355],[18,320],[20,345],[21.5,315],[23.1,336,1],[26,320],[29,260],[32.8,215,1],[36,195],[39,180],[42.5,172,1],[47,160],[52,155,1],[57,145],[61.7,137,1],[66,140],[71.2,120,1],[76,140],[80.8,167,1],[85,150],[88,120],[90.6,107,1],[93.6,103,1]],
  [[0.4,20],[2,60],[4.2,190,1],[6,240],[8,230],[10,210],[12,205],[13.7,210,1],[17,230],[20,250],[23.1,270,1],[26,260],[29,220],[32.8,170,1],[36,140],[39,125],[42.5,115,1],[47,125],[52,138,1],[57,110],[61.7,95,1],[66,110],[71.2,125,1],[76,120],[80.8,110,1],[85,115],[88,120],[90.6,130,1],[93.6,115,1]]
];

const ourTicks = [0, 0.2, 0.4, 0.6, 0.8, 1.0];
const doTicks = [0, 20, 40, 60, 80, 100];
const dsatTicks = [0, 1, 2, 3, 4, 5];
const klaTicks = [0, 200, 400, 600, 800, 1000];

// options table built from the arrays above
const panels = [
  { data: ourData, domain: [-0.05, 1.05], ticks: ourTicks, fmt: d => d.toFixed(1), label: "OUR", labelX: 68 },
  { data: doData, domain: [-5.15, 105.15], ticks: doTicks, fmt: d => d, label: "DO [%]", labelX: 62 },
  { data: dsatData, domain: [-0.25, 5.26], ticks: dsatTicks, fmt: d => (d * 1e-4).toFixed(4), label: "DO*-DO [mol/L]", labelX: 36 },
  { data: klaData, domain: [-50.2, 1052.8], ticks: klaTicks, fmt: d => d, label: "kla", labelX: 53 }
];

const dashes = { dot: "1.5,2.5", dash: "5.5,2.4", dashdot: "9,2.4,1.5,2.4" };
const symbolType = { circle: d3.symbolCircle, square: d3.symbolSquare, triangle: d3.symbolTriangle };
const symbolSize = { circle: 112, square: 132, triangle: 100 };

const svg = d3.select("#chart");
const left = 116, right = 1024, panelH = 256;
const tops = [55, 362, 670, 977];

const x = d3.scaleLinear().domain([-3.933, 98.09]).range([left, right]);

// figure frame
svg.append("rect")
  .attr("x", 9).attr("y", 4).attr("width", 1205).attr("height", 1270)
  .attr("fill", "none").attr("stroke", "#111").attr("stroke-width", 3);

// title
const title = svg.append("text")
  .attr("x", 575).attr("y", 40)
  .attr("text-anchor", "middle")
  .style("font-family", "'Liberation Serif', 'Times New Roman', serif")
  .style("font-size", "37px").style("fill", "#111");
title.append("tspan").text("All batches \u2013 variables going into the ");
title.append("tspan").style("font-style", "italic").text("k");
title.append("tspan").attr("dy", 6).style("font-size", "25px").text("L");
title.append("tspan").attr("dy", -6).style("font-style", "italic").text("a");
title.append("tspan").text(" calculations");

panels.forEach((p, i) => {
  const top = tops[i], bottom = top + panelH;
  const y = d3.scaleLinear().domain(p.domain).range([bottom, top]);
  const g = svg.append("g");

  // grid
  g.selectAll(".gx").data(timeTicks).enter().append("line")
    .attr("x1", d => x(d)).attr("x2", d => x(d))
    .attr("y1", top).attr("y2", bottom)
    .attr("stroke", "#b0b0b0").attr("stroke-width", 0.9);
  g.selectAll(".gy").data(p.ticks).enter().append("line")
    .attr("x1", left).attr("x2", right)
    .attr("y1", d => y(d)).attr("y2", d => y(d))
    .attr("stroke", "#b0b0b0").attr("stroke-width", 0.9);

  const clipId = "clip" + i;
  svg.append("clipPath").attr("id", clipId)
    .append("rect").attr("x", left).attr("y", top).attr("width", right - left).attr("height", panelH);

  const plot = g.append("g").attr("clip-path", "url(#" + clipId + ")");
  const line = d3.line().x(d => x(d[0])).y(d => y(d[1]));

  p.data.forEach((series, b) => {
    plot.append("path")
      .datum(series)
      .attr("d", line)
      .attr("fill", "none")
      .attr("stroke", batchColors[b])
      .attr("stroke-width", 1.5)
      .attr("stroke-dasharray", dashes[batchLine[b]]);
    plot.selectAll(".m" + b)
      .data(series.filter(d => d[2] === 1))
      .enter().append("path")
      .attr("transform", d => "translate(" + x(d[0]) + "," + y(d[1]) + ")")
      .attr("d", d3.symbol().type(symbolType[batchMarker[b]]).size(symbolSize[batchMarker[b]]))
      .attr("fill", batchColors[b]);
  });

  // axes
  g.append("g")
    .attr("transform", "translate(" + left + ",0)")
    .call(d3.axisLeft(y).tickValues(p.ticks).tickFormat(p.fmt).tickSize(5).tickPadding(4))
    .call(a => a.select(".domain").remove())
    .call(a => a.selectAll("text").style("font-size", "15.5px").style("fill", "#222"))
    .call(a => a.selectAll("line").attr("stroke", "#333"));
  g.append("g")
    .attr("transform", "translate(0," + bottom + ")")
    .call(d3.axisBottom(x).tickValues(timeTicks).tickFormat("").tickSize(5))
    .call(a => a.select(".domain").remove())
    .call(a => a.selectAll("line").attr("stroke", "#333"));

  g.append("rect")
    .attr("x", left).attr("y", top).attr("width", right - left).attr("height", panelH)
    .attr("fill", "none").attr("stroke", "#333").attr("stroke-width", 1);

  // y label
  const lab = g.append("text")
    .attr("transform", "translate(" + p.labelX + "," + (top + panelH / 2) + ") rotate(-90)")
    .attr("text-anchor", "middle").attr("dy", "0.35em")
    .style("font-size", "15.5px");
  if (p.label === "kla") {
    lab.append("tspan").style("font-style", "italic").text("k");
    lab.append("tspan").attr("dy", 4).style("font-size", "11px").style("font-style", "italic").text("L");
    lab.append("tspan").attr("dy", -4).style("font-style", "italic").text("a");
    lab.append("tspan").text(" [1/h]");
  } else {
    lab.text(p.label);
  }
});

// x label
svg.append("text").attr("x", 568).attr("y", 1251)
  .attr("text-anchor", "middle").style("font-size", "15.5px").text("time");

// legend
const legend = svg.append("g");
legend.append("rect")
  .attr("x", 1032).attr("y", 62).attr("width", 163).attr("height", 371).attr("rx", 3)
  .attr("fill", "#fff").attr("stroke", "#d0d0d0");
batchNames.forEach((name, b) => {
  const ly = 76 + b * 24.45;
  legend.append("line")
    .attr("x1", 1038).attr("x2", 1070).attr("y1", ly).attr("y2", ly)
    .attr("stroke", batchColors[b]).attr("stroke-width", 1.5)
    .attr("stroke-dasharray", dashes[batchLine[b]]);
  legend.append("path")
    .attr("transform", "translate(1054," + ly + ")")
    .attr("d", d3.symbol().type(symbolType[batchMarker[b]]).size(symbolSize[batchMarker[b]]))
    .attr("fill", batchColors[b]);
  legend.append("text")
    .attr("x", 1084).attr("y", ly).attr("dy", "0.36em")
    .style("font-size", "16px").text(name);
});
</script>
</body>
</html>
